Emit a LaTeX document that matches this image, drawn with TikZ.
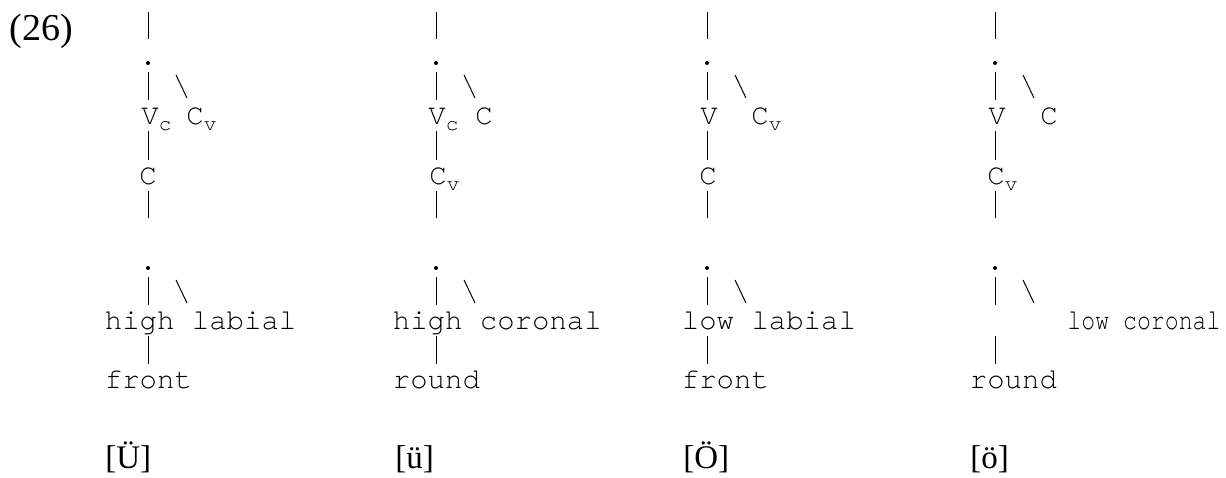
\documentclass[tikz,border=0pt]{standalone}
\usepackage{fontspec}
\setmainfont{Liberation Serif}
\setmonofont{TeX Gyre Cursor}
\usetikzlibrary{calc}
\newcommand{\lo}[1]{\raisebox{-3pt}{\fontsize{10.5}{10.5}\selectfont #1}}
\tikzset{
    seg/.style={font=\ttfamily\fontsize{14.5}{14.5}\selectfont, anchor=base west, inner sep=0pt, text height=8.5pt, text depth=0pt},
    gloss/.style={font=\fontsize{16.5}{16.5}\selectfont, anchor=base west, inner sep=0pt},
    num/.style={font=\fontsize{19}{19}\selectfont, anchor=base west, inner sep=0pt},
    knot/.style={circle, fill, inner sep=0pt, minimum size=2pt},
    bar/.style={line width=0.5pt, shorten <=3.5pt, shorten >=3.5pt},
    stalk/.style={bar, shorten >=10.75pt},
    lean/.style={line width=0.5pt},
}

\begin{document}
\begin{tikzpicture}[x=0.5pt,y=-0.5pt]
    \useasboundingbox (0,0) rectangle (1226,477);
    \node[num] (ex) at (9,40) {(26)};

    % [Ü]
    \coordinate (top1) at (148,5);
    \node[knot] (dot1) at (148,63) {};
    \node[seg] (V1) at (141,124) {V\lo{c}};
    \node[seg] (C1) at (186,124) {C\lo{v}};
    \node[seg] (L1) at (139,184) {C};
    \coordinate (bot1) at (148,225);
    \draw[stalk] (top1) -- (dot1);
    \draw[bar] (dot1) -- (dot1 |- V1.north);
    \draw[lean] (dot1) ++(28,12) -- ++(11,23);
    \draw[bar] (dot1 |- V1.base) -- (dot1 |- L1.north);
    \draw[bar] (dot1 |- L1.base) -- (bot1);
    \node[knot] (dot1b) at (148,268) {};
    \node[seg] (F1) at (104.5,329) {high labial};
    \node[seg] (G1) at (104.5,388) {front};
    \draw[bar] (dot1b) -- (dot1b |- F1.north);
    \draw[lean] (dot1b) ++(28,12) -- ++(11,23);
    \draw[bar] (dot1b |- F1.base) -- (dot1b |- G1.north);
    \node[gloss] (S1) at (105,468) {[Ü]};

    % [ü]
    \coordinate (top2) at (436,5);
    \node[knot] (dot2) at (436,63) {};
    \node[seg] (V2) at (428,124) {V\lo{c}};
    \node[seg] (C2) at (475,124) {C};
    \node[seg] (L2) at (429,184) {C\lo{v}};
    \coordinate (bot2) at (436,225);
    \draw[stalk] (top2) -- (dot2);
    \draw[bar] (dot2) -- (dot2 |- V2.north);
    \draw[lean] (dot2) ++(28,12) -- ++(11,23);
    \draw[bar] (dot2 |- V2.base) -- (dot2 |- L2.north);
    \draw[bar] (dot2 |- L2.base) -- (bot2);
    \node[knot] (dot2b) at (436,268) {};
    \node[seg] (F2) at (392.5,329) {high coronal};
    \node[seg] (G2) at (392.5,388) {round};
    \draw[bar] (dot2b) -- (dot2b |- F2.north);
    \draw[lean] (dot2b) ++(28,12) -- ++(11,23);
    \draw[bar] (dot2b |- F2.base) -- (dot2b |- G2.north);
    \node[gloss] (S2) at (395,468) {[ü]};

    % [Ö]
    \coordinate (top3) at (707,5);
    \node[knot] (dot3) at (707,63) {};
    \node[seg] (V3) at (700,124) {V};
    \node[seg] (C3) at (751,124) {C\lo{v}};
    \node[seg] (L3) at (699,184) {C};
    \coordinate (bot3) at (707,225);
    \draw[stalk] (top3) -- (dot3);
    \draw[bar] (dot3) -- (dot3 |- V3.north);
    \draw[lean] (dot3) ++(28,12) -- ++(11,23);
    \draw[bar] (dot3 |- V3.base) -- (dot3 |- L3.north);
    \draw[bar] (dot3 |- L3.base) -- (bot3);
    \node[knot] (dot3b) at (707,268) {};
    \node[seg] (F3) at (681.5,329) {low labial};
    \node[seg] (G3) at (681.5,388) {front};
    \draw[bar] (dot3b) -- (dot3b |- F3.north);
    \draw[lean] (dot3b) ++(28,12) -- ++(11,23);
    \draw[bar] (dot3b |- F3.base) -- (dot3b |- G3.north);
    \node[gloss] (S3) at (683,468) {[Ö]};

    % [ö]
    \coordinate (top4) at (995,5);
    \node[knot] (dot4) at (995,63) {};
    \node[seg] (V4) at (988,124) {V};
    \node[seg] (C4) at (1040,124) {C};
    \node[seg] (L4) at (987,184) {C\lo{v}};
    \coordinate (bot4) at (995,225);
    \draw[stalk] (top4) -- (dot4);
    \draw[bar] (dot4) -- (dot4 |- V4.north);
    \draw[lean] (dot4) ++(28,12) -- ++(11,23);
    \draw[bar] (dot4 |- V4.base) -- (dot4 |- L4.north);
    \draw[bar] (dot4 |- L4.base) -- (bot4);
    \node[knot] (dot4b) at (995,268) {};
    \node[seg] (F4) at (1067,329) {\scalebox{0.8}[1]{low coronal}};
    \node[seg] (G4) at (969.5,388) {round};
    \draw[bar] (dot4b) -- (dot4b |- F4.north);
    \draw[lean] (dot4b) ++(28,12) -- ++(11,23);
    \draw[bar] (dot4b |- F4.base) -- (dot4b |- G4.north);
    \node[gloss] (S4) at (970,468) {[ö]};
\end{tikzpicture}
\end{document}
